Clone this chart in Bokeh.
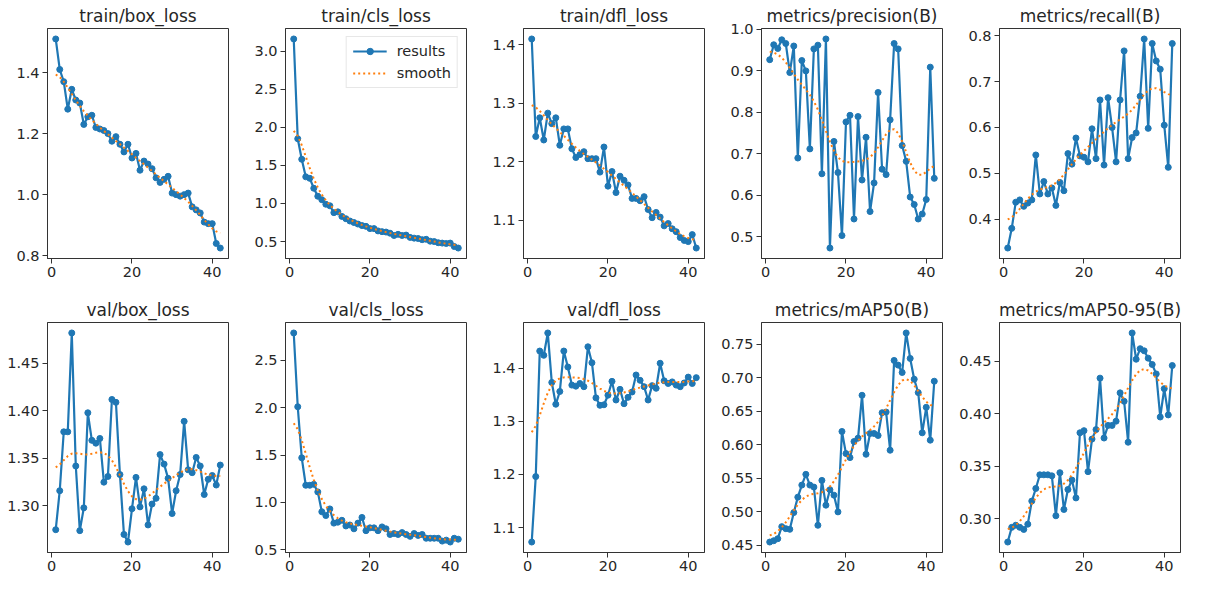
import numpy as np
from bokeh.plotting import figure
from bokeh.layouts import gridplot
from bokeh.models import FixedTicker, Range1d, Legend, LegendItem, PrintfTickFormatter
from bokeh.embed import file_html
from bokeh.resources import INLINE

epochs = list(range(1, 43))

titles = ["train/box_loss", "train/cls_loss", "train/dfl_loss", "metrics/precision(B)", "metrics/recall(B)",
          "val/box_loss", "val/cls_loss", "val/dfl_loss", "metrics/mAP50(B)", "metrics/mAP50-95(B)"]

train_box_loss = [1.51, 1.41, 1.37, 1.28, 1.345, 1.31, 1.30, 1.23, 1.255, 1.26, 1.22, 1.215, 1.21, 1.20,
                  1.175, 1.19, 1.165, 1.14, 1.165, 1.12, 1.135, 1.08, 1.11, 1.10, 1.085, 1.055, 1.04, 1.05,
                  1.06, 1.005, 1.0, 0.995, 1.0, 1.005, 0.96, 0.95, 0.94, 0.91, 0.905, 0.905, 0.84, 0.825]
train_cls_loss = [3.16, 1.85, 1.58, 1.35, 1.33, 1.20, 1.095, 1.05, 0.99, 0.97, 0.88, 0.89, 0.83, 0.80,
                  0.77, 0.75, 0.73, 0.71, 0.70, 0.67, 0.67, 0.64, 0.63, 0.625, 0.61, 0.58, 0.595, 0.58,
                  0.585, 0.555, 0.545, 0.54, 0.525, 0.53, 0.505, 0.50, 0.485, 0.48, 0.475, 0.48, 0.435, 0.415]
train_dfl_loss = [1.41, 1.243, 1.275, 1.237, 1.283, 1.265, 1.275, 1.228, 1.256, 1.256, 1.222, 1.207, 1.212,
                  1.217, 1.205, 1.205, 1.205, 1.182, 1.225, 1.158, 1.183, 1.147, 1.175, 1.168, 1.16, 1.137,
                  1.137, 1.133, 1.14, 1.118, 1.104, 1.113, 1.105, 1.09, 1.094, 1.085, 1.08, 1.07, 1.065,
                  1.063, 1.075, 1.052]
precision = [0.927, 0.963, 0.954, 0.975, 0.966, 0.896, 0.96, 0.69, 0.925, 0.90, 0.712, 0.953, 0.962, 0.652,
             0.977, 0.473, 0.73, 0.655, 0.503, 0.777, 0.793, 0.543, 0.79, 0.637, 0.74, 0.561, 0.63, 0.848,
             0.663, 0.65, 0.782, 0.966, 0.953, 0.72, 0.682, 0.596, 0.578, 0.543, 0.555, 0.59, 0.909, 0.641]
recall = [0.337, 0.38, 0.437, 0.442, 0.428, 0.435, 0.442, 0.54, 0.455, 0.482, 0.455, 0.468, 0.43, 0.48,
          0.462, 0.543, 0.52, 0.577, 0.538, 0.535, 0.525, 0.597, 0.532, 0.66, 0.518, 0.665, 0.60, 0.525,
          0.66, 0.767, 0.532, 0.578, 0.588, 0.668, 0.793, 0.598, 0.783, 0.745, 0.727, 0.605, 0.513, 0.783]
val_box_loss = [1.275, 1.316, 1.378, 1.378, 1.482, 1.342, 1.274, 1.298, 1.398, 1.369, 1.366, 1.371, 1.325,
                1.331, 1.412, 1.409, 1.333, 1.27, 1.262, 1.297, 1.33, 1.299, 1.318, 1.28, 1.302, 1.308,
                1.354, 1.344, 1.329, 1.292, 1.316, 1.333, 1.389, 1.338, 1.335, 1.351, 1.342, 1.312, 1.328,
                1.332, 1.322, 1.343]
val_cls_loss = [2.79, 2.01, 1.47, 1.18, 1.18, 1.19, 1.11, 0.90, 0.86, 0.93, 0.78, 0.79, 0.81, 0.75, 0.76,
                0.72, 0.78, 0.84, 0.70, 0.73, 0.73, 0.70, 0.74, 0.72, 0.66, 0.67, 0.66, 0.68, 0.66, 0.64,
                0.67, 0.65, 0.66, 0.62, 0.62, 0.62, 0.62, 0.59, 0.60, 0.58, 0.62, 0.61]
val_dfl_loss = [1.073, 1.196, 1.432, 1.424, 1.466, 1.373, 1.332, 1.356, 1.432, 1.402, 1.368, 1.366, 1.371,
                1.365, 1.44, 1.41, 1.344, 1.33, 1.331, 1.349, 1.375, 1.34, 1.36, 1.333, 1.345, 1.355,
                1.387, 1.377, 1.365, 1.34, 1.367, 1.362, 1.409, 1.376, 1.371, 1.374, 1.368, 1.365, 1.372,
                1.383, 1.371, 1.382]
map50 = [0.455, 0.457, 0.46, 0.478, 0.475, 0.474, 0.499, 0.522, 0.54, 0.556, 0.54, 0.537, 0.48, 0.547,
         0.51, 0.533, 0.525, 0.50, 0.62, 0.587, 0.581, 0.605, 0.61, 0.674, 0.586, 0.617, 0.617, 0.614,
         0.648, 0.649, 0.592, 0.726, 0.719, 0.708, 0.767, 0.729, 0.698, 0.678, 0.618, 0.656, 0.607, 0.695]
map50_95 = [0.278, 0.292, 0.294, 0.292, 0.29, 0.295, 0.317, 0.329, 0.342, 0.342, 0.342, 0.341, 0.303,
            0.344, 0.309, 0.328, 0.337, 0.32, 0.382, 0.384, 0.345, 0.376, 0.385, 0.434, 0.377, 0.389,
            0.389, 0.393, 0.42, 0.412, 0.373, 0.477, 0.452, 0.462, 0.46, 0.453, 0.447, 0.438, 0.397,
            0.424, 0.399, 0.446]

series = [train_box_loss, train_cls_loss, train_dfl_loss, precision, recall,
          val_box_loss, val_cls_loss, val_dfl_loss, map50, map50_95]

y_ticks = [[0.8, 1.0, 1.2, 1.4], [0.5, 1.0, 1.5, 2.0, 2.5, 3.0], [1.1, 1.2, 1.3, 1.4],
           [0.5, 0.6, 0.7, 0.8, 0.9, 1.0], [0.4, 0.5, 0.6, 0.7, 0.8],
           [1.30, 1.35, 1.40, 1.45], [0.5, 1.0, 1.5, 2.0, 2.5], [1.1, 1.2, 1.3, 1.4],
           [0.45, 0.50, 0.55, 0.60, 0.65, 0.70, 0.75], [0.30, 0.35, 0.40, 0.45]]
y_formats = ["%.1f", "%.1f", "%.1f", "%.1f", "%.1f", "%.2f", "%.1f", "%.1f", "%.2f", "%.2f"]
x_ticks = [0, 20, 40]


def gaussian_smooth(y, sigma=3.0, truncate=4.0):
    y = np.asarray(y, dtype=float)
    r = int(truncate * sigma + 0.5)
    k = np.arange(-r, r + 1)
    w = np.exp(-0.5 * (k / sigma) ** 2)
    w /= w.sum()
    yp = np.pad(y, r, mode="symmetric")
    return np.convolve(yp, w, mode="valid")


BLUE = "#1f77b4"
ORANGE = "#ff7f0e"
FONT = "DejaVu Sans"

figs = []
for i, (title, ys) in enumerate(zip(titles, series)):
    sm = gaussian_smooth(ys)
    lo = min(min(ys), sm.min())
    hi = max(max(ys), sm.max())
    pad = 0.05 * (hi - lo)
    row2 = i >= 5
    p = figure(frame_width=181, frame_height=230, output_backend="svg", toolbar_location=None,
               x_range=Range1d(-1.05, 44.05), y_range=Range1d(lo - pad, hi + pad),
               min_border_left=47, min_border_right=10, min_border_top=26,
               min_border_bottom=26 if row2 else 36, title=title)
    p.title.text_font = FONT
    p.title.text_font_size = "17px"
    p.title.text_font_style = "normal"
    p.title.text_color = "#262626"
    p.title.align = "center"
    p.title.offset = 0
    p.title.standoff = 6
    p.xgrid.visible = False
    p.ygrid.visible = False
    p.outline_line_color = "#333333"
    p.outline_line_width = 1
    p.background_fill_color = "white"
    p.border_fill_color = "white"
    for ax in (p.xaxis[0], p.yaxis[0]):
        ax.axis_line_color = "#333333"
        ax.major_tick_line_color = "#333333"
        ax.major_tick_out = 5
        ax.major_tick_in = 0
        ax.minor_tick_line_color = None
        ax.major_label_text_font = FONT
        ax.major_label_text_font_size = "14.5px"
        ax.major_label_text_color = "#262626"
        ax.major_label_standoff = 3
    p.xaxis[0].ticker = FixedTicker(ticks=x_ticks)
    p.yaxis[0].ticker = FixedTicker(ticks=y_ticks[i])
    p.yaxis[0].formatter = PrintfTickFormatter(format=y_formats[i])

    r1 = p.line(epochs, ys, line_color=BLUE, line_width=2.2)
    r2 = p.scatter(epochs, ys, size=6, fill_color=BLUE, line_color=BLUE)
    r3 = p.line(epochs, list(sm), line_color=ORANGE, line_width=2, line_dash="2 3")

    if i == 1:
        legend = Legend(items=[LegendItem(label="results", renderers=[r1, r2]),
                               LegendItem(label="smooth", renderers=[r3])],
                        location="top_right")
        legend.label_text_font = FONT
        legend.label_text_font_size = "14.5px"
        legend.label_text_color = "#262626"
        legend.border_line_color = "#d0d0d0"
        legend.background_fill_alpha = 0.8
        legend.glyph_width = 34
        legend.glyph_height = 16
        legend.label_standoff = 10
        legend.spacing = 6
        legend.padding = 6
        legend.margin = 8
        p.add_layout(legend)
    figs.append(p)

grid = gridplot(figs, ncols=5, toolbar_location=None)

open("out.html", "w").write(file_html(grid, INLINE))
